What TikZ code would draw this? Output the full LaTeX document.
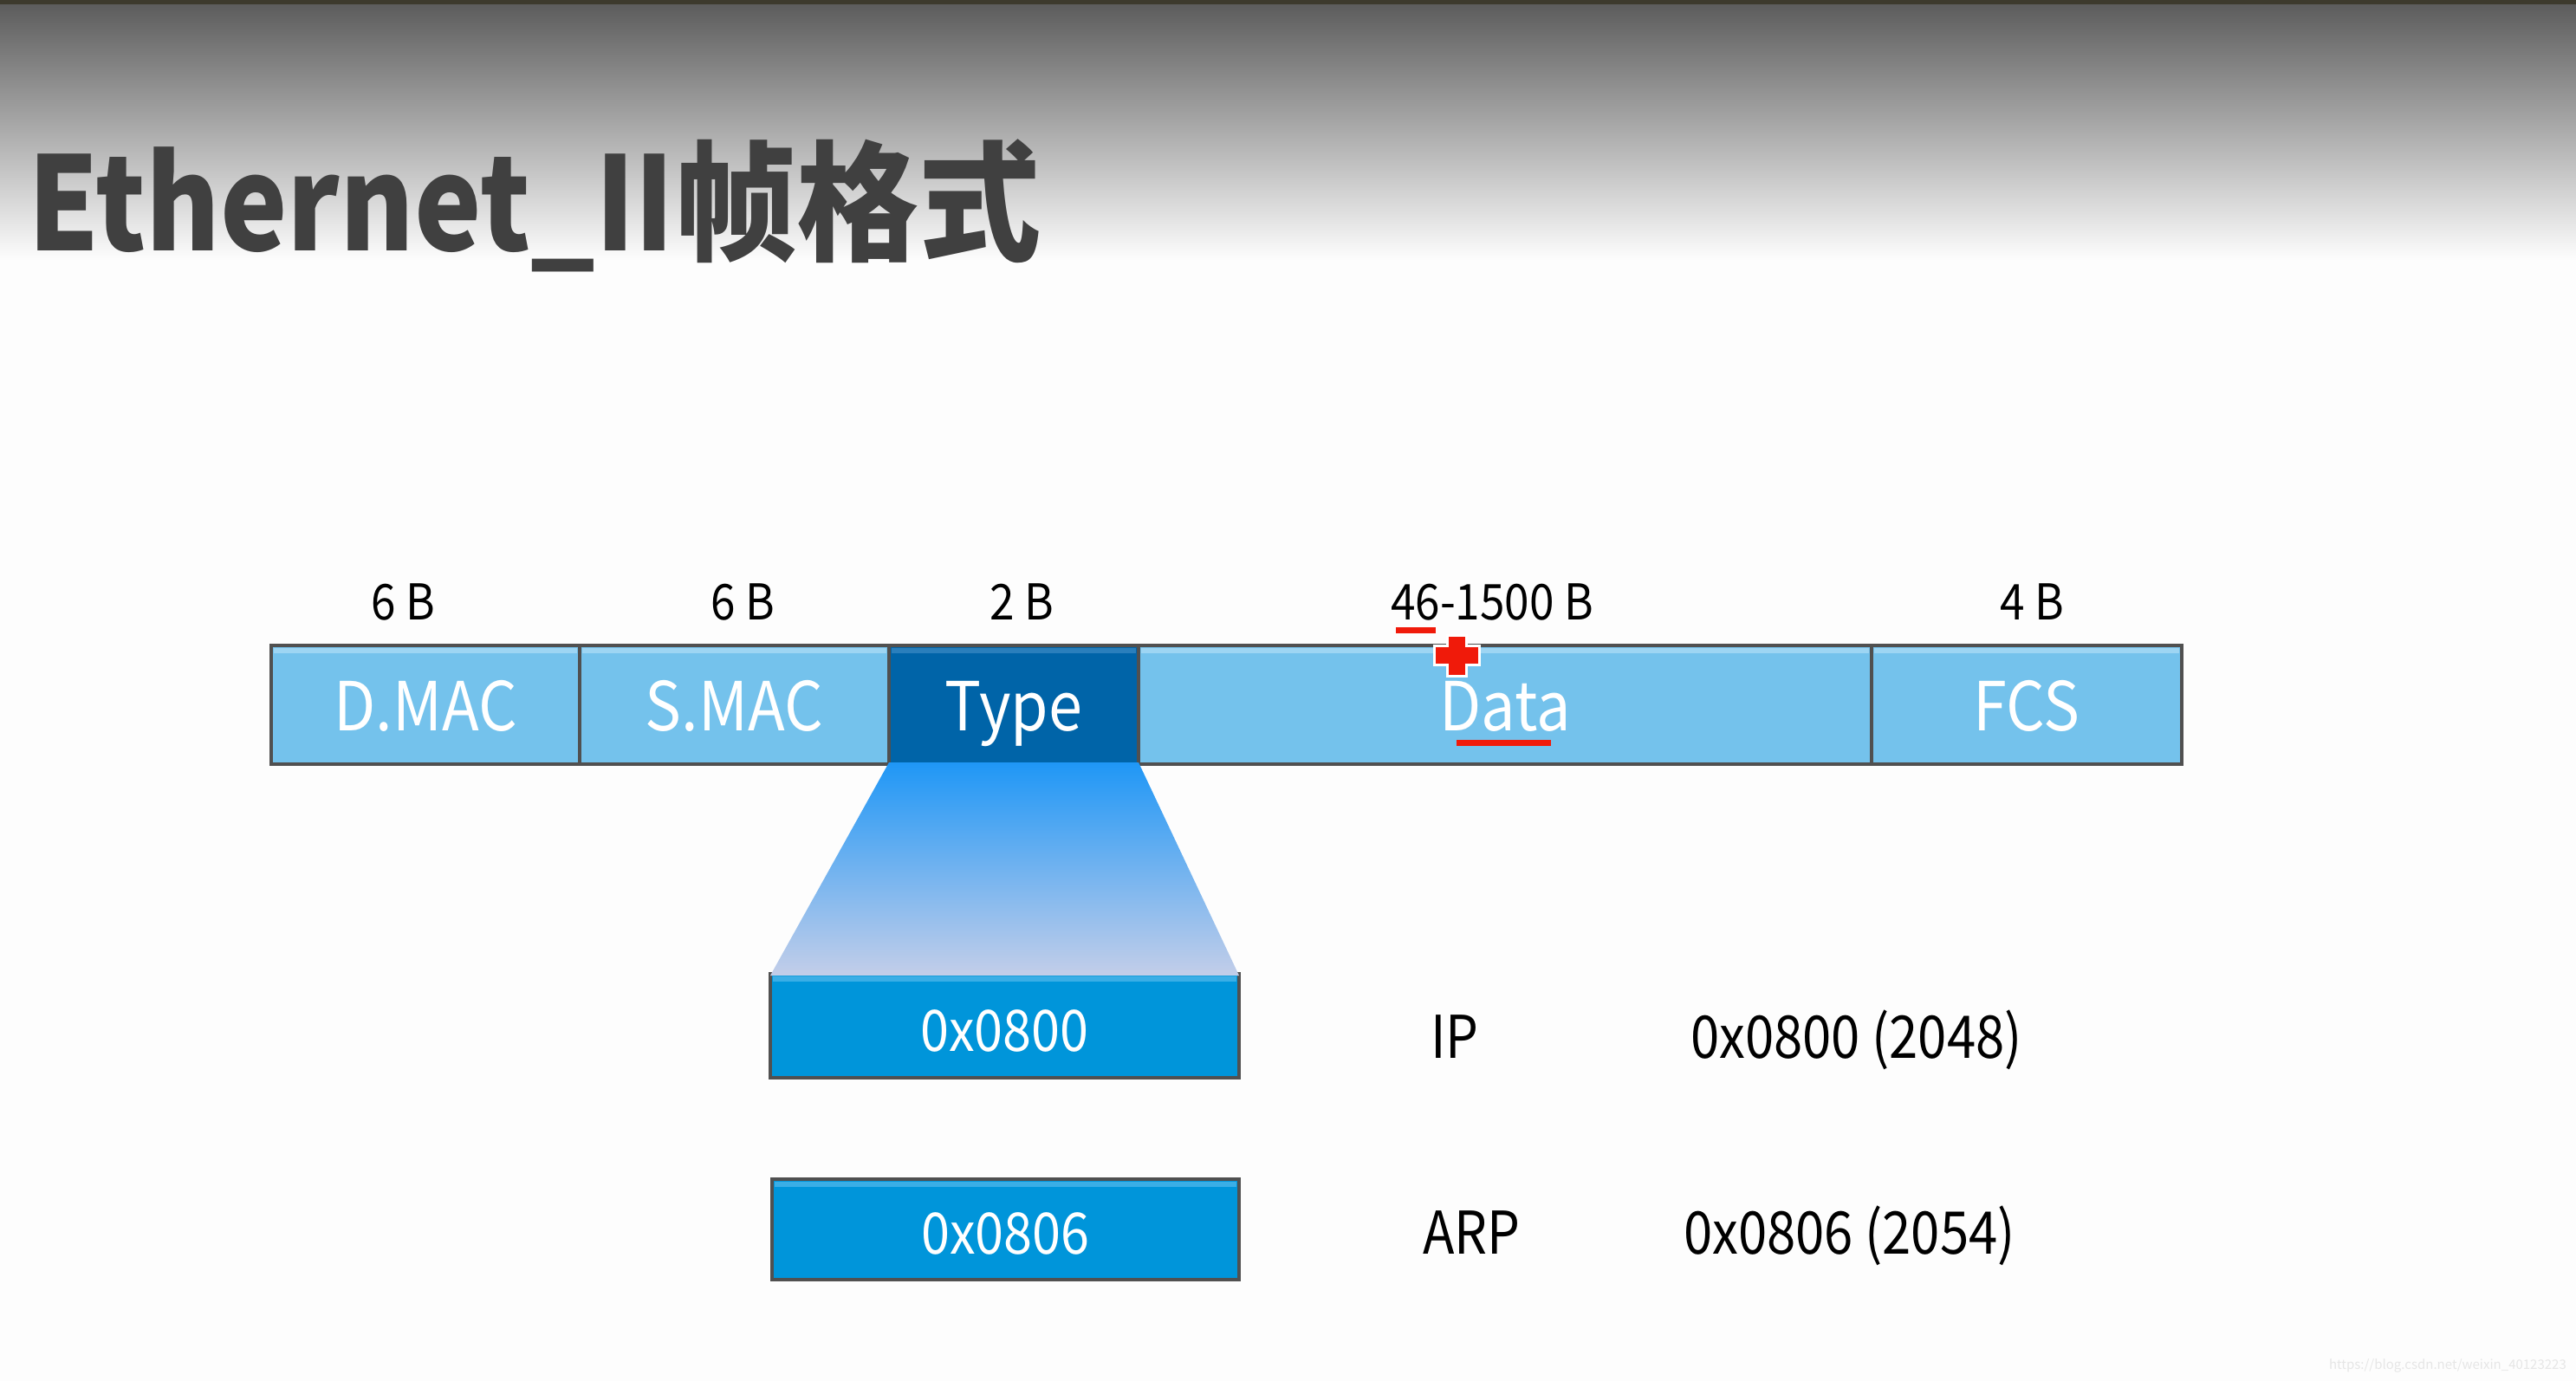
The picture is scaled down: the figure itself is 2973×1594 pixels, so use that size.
\documentclass[tikz,border=0pt]{standalone}
\usepackage{fontspec}
\usepackage{graphicx}
\setmainfont{Noto Sans CJK SC}
\newcommand{\cond}[2][0.9]{\scalebox{#1}[1]{#2}}
\definecolor{bglight}{HTML}{FDFDFD}
\definecolor{topdark}{HTML}{5A5A5A}
\definecolor{titlecol}{HTML}{404040}
\definecolor{fieldlight}{HTML}{74C2EC}
\definecolor{fieldlighttop}{HTML}{9DD5F3}
\definecolor{fielddark}{HTML}{0064A8}
\definecolor{fielddarktop}{HTML}{2A7FBC}
\definecolor{valbox}{HTML}{0095DA}
\definecolor{valboxtop}{HTML}{3AAEE6}
\definecolor{bordercol}{HTML}{505050}
\definecolor{fanTop}{HTML}{1F97F6}
\definecolor{fanMid}{HTML}{8DB9EE}
\definecolor{fanBot}{HTML}{C3CEE9}
\definecolor{marker}{HTML}{F01A0A}
\definecolor{wmark}{HTML}{E6E6E6}
\tikzset{
  field/.style={draw=bordercol, line width=4pt, inner sep=0pt, outer sep=0pt,
    minimum height=137pt},
  fieldtext/.style={inner sep=0pt, anchor=base, text=white, font=\fontsize{78}{90}\selectfont},
  valfield/.style={draw=bordercol, line width=4pt, inner sep=0pt, outer sep=0pt, fill=valbox},
  valtext/.style={inner sep=0pt, anchor=base, text=white, font=\fontsize{66}{80}\selectfont},
  sizelabel/.style={inner sep=0pt, anchor=base, font=\fontsize{57}{68}\selectfont},
  plainlabel/.style={inner sep=0pt, anchor=base west, font=\fontsize{68}{80}\selectfont},
}
\begin{document}
\begin{tikzpicture}[x=1pt,y=-1pt]
\useasboundingbox (0,0) rectangle (2973,1594);
\fill[bglight] (0,0) rectangle (2973,1594);
\shade[top color=topdark, bottom color=bglight, middle color=black!33] (0,0) rectangle (2973,300);
\fill[black!75!olive] (0,0) rectangle (2973,5);

% title
\node[anchor=base west, inner sep=0pt, text=titlecol, font=\fontsize{150}{170}\selectfont\bfseries] (title) at (32,290) {\cond[0.87]{Ethernet\_II}\cond[0.94]{帧格式}};

% frame fields
\node[field, fill=fieldlight, minimum width=356pt] (dmac) at (491,813.5) {};
\node[field, fill=fieldlight, minimum width=357pt] (smac) at (847.5,813.5) {};
\node[field, fill=fielddark, minimum width=288pt] (type) at (1170,813.5) {};
\node[field, fill=fieldlight, minimum width=846pt] (data) at (1737,813.5) {};
\node[field, fill=fieldlight, minimum width=358pt] (fcs) at (2339,813.5) {};

% top highlight strips
\foreach \n/\c in {dmac/fieldlighttop, smac/fieldlighttop, type/fielddarktop, data/fieldlighttop, fcs/fieldlighttop}{
  \fill[\c] ([xshift=3pt,yshift=-3pt]\n.north west) rectangle ([xshift=-3pt,yshift=-9pt]\n.north east);
}

% field texts
\node[fieldtext] (tdmac) at (491,843) {\cond{D.MAC}};
\node[fieldtext] (tsmac) at (847.5,843) {\cond{S.MAC}};
\node[fieldtext] (ttype) at (1170,843) {\cond{Type}};
\node[fieldtext] (tdata) at (1737,843) {\cond{Data}};
\node[fieldtext] (tfcs) at (2339,843) {\cond{FCS}};

% size labels
\node[sizelabel] (s1) at (465,715) {\cond{6 B}};
\node[sizelabel] (s2) at (857,715) {\cond{6 B}};
\node[sizelabel] (s3) at (1179,715) {\cond{2 B}};
\node[sizelabel] (s4) at (1722,715) {\cond{46-1500 B}};
\node[sizelabel] (s5) at (2345,715) {\cond{4 B}};

% value boxes
\node[valfield, minimum width=541pt, minimum height=120pt] (b800) at (1159.5,1184) {};
\node[valfield, minimum width=539pt, minimum height=116pt] (b806) at (1160.5,1419) {};
\fill[valboxtop] ([xshift=3pt,yshift=-3pt]b800.north west) rectangle ([xshift=-3pt,yshift=-9pt]b800.north east);
\fill[valboxtop] ([xshift=3pt,yshift=-3pt]b806.north west) rectangle ([xshift=-3pt,yshift=-9pt]b806.north east);
\node[valtext] (t800) at (1159.5,1213) {\cond{0x0800}};
\node[valtext] (t806) at (1160.5,1447) {\cond{0x0806}};

% fan
\shade[top color=fanTop, middle color=fanMid, bottom color=fanBot]
  ([yshift=2pt]type.south west) -- ([yshift=2pt]type.south east) -- ([yshift=-2pt]b800.north east) -- ([yshift=-2pt]b800.north west) -- cycle;

% right labels
\node[plainlabel] (ip) at (1651,1221) {\cond[0.88]{IP}};
\node[plainlabel] (ipval) at (1951,1221) {\cond[0.88]{0x0800 (2048)}};
\node[plainlabel] (arp) at (1642,1447) {\cond[0.88]{ARP}};
\node[plainlabel] (arpval) at (1943,1447) {\cond[0.88]{0x0806 (2054)}};

% red marks
\fill[marker] (1611,724) rectangle (1657,731);
\fill[marker] (1681,854) rectangle (1790,861);
\filldraw[fill=marker, draw=white, line width=3pt]
  (1670,733) -- (1692,733) -- (1692,745) -- (1707,745) -- (1707,767) -- (1692,767) -- (1692,780) -- (1670,780) -- (1670,767) -- (1655,767) -- (1655,745) -- (1670,745) -- cycle;

% watermark
\node[inner sep=0pt, anchor=base east, text=wmark, font=\fontsize{15}{18}\selectfont] (wm) at (2962,1580) {https://blog.csdn.net/weixin\_40123223};
\end{tikzpicture}
\end{document}
